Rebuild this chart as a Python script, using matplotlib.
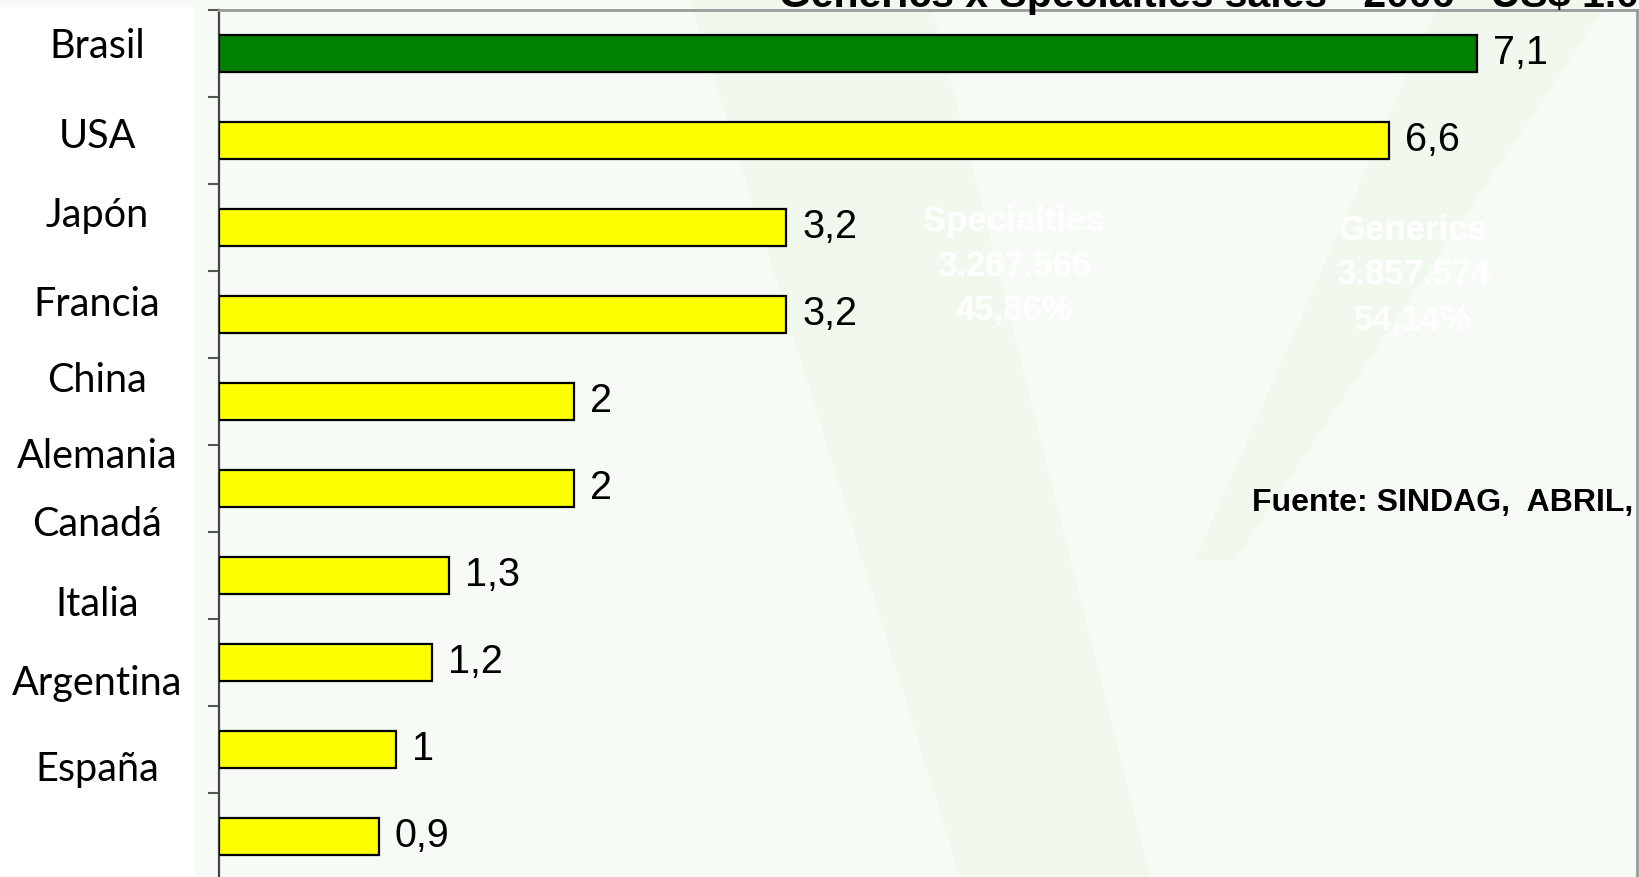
import matplotlib
matplotlib.use("Agg")
import matplotlib.pyplot as plt
from matplotlib import font_manager
from matplotlib.patches import Polygon, Rectangle
import numpy as np

# data
countries = ["Brasil", "USA", "Japón", "Francia", "China", "Alemania",
             "Canadá", "Italia", "Argentina", "España"]
values = [7.1, 6.6, 3.2, 3.2, 2, 2, 1.3, 1.2, 1, 0.9]
value_labels = ["7,1", "6,6", "3,2", "3,2", "2", "2", "1,3", "1,2", "1", "0,9"]
bar_colors = ["#008000"] + ["#ffff00"] * 9

title = "Generics x Specialties sales - 2006 - US$ 1.000"
source = "Fuente: SINDAG,  ABRIL,"
specialties = ["Specialties", "3.267.566", "45,86%"]
generics = ["Generics", "3.857.574", "54,14%"]

# layout (pixels from top of the 1639x877 image)
W, H = 1639, 877
label_y_px = [47, 136, 216, 304, 380, 456, 525, 604, 683, 769]

installed = {f.name for f in font_manager.fontManager.ttflist}
if "Liberation Sans Narrow" in installed:
    narrow, val_size = "Liberation Sans Narrow", 31
else:
    narrow, val_size = "Liberation Sans", 28.5

fig = plt.figure(figsize=(W / 100, H / 100), dpi=100)
fig.patch.set_facecolor("#f7fbf5")

def px(x, y):
    return (x, H - y)

# faint "V" shapes of the slide background
v_color = "#f1f8ee"
fig.patches.append(Polygon([px(690, 0), px(930, 0), px(1150, 877), px(960, 877)],
                           closed=True, transform=None, facecolor=v_color,
                           edgecolor="none", zorder=-2))
fig.patches.append(Polygon([px(1440, 0), px(1610, 0), px(1235, 560), px(1195, 560)],
                           closed=True, transform=None, facecolor=v_color,
                           edgecolor="none", zorder=-2))
# white box behind the country names
fig.patches.append(Rectangle(px(0, 877), 195, 870, transform=None,
                             facecolor="white", edgecolor="none", zorder=-1))

ax = fig.add_axes([219 / W, -3 / H, 1418 / W, 870 / H])
ax.set_facecolor("none")
ax.set_zorder(2)

y = np.arange(len(values))
ax.barh(y, values, height=0.42, color=bar_colors, edgecolor="black",
        linewidth=1.6, zorder=3)
for yi, v, lab in zip(y, values, value_labels):
    ax.annotate(lab, (v, yi), xytext=(16, 0), textcoords="offset pixels",
                va="center", ha="left", fontsize=val_size, family=narrow,
                zorder=4)

ax.set_xlim(0, 8)
ax.set_ylim(len(values) - 0.5, -0.5)
ax.set_xticks([])
ax.set_yticks(np.arange(-0.5, len(values) - 0.5, 1))
ax.set_yticklabels([])
ax.tick_params(axis="y", direction="out", length=8, width=1.5, color="#555555")

ax.spines["left"].set_color("#444444")
ax.spines["left"].set_linewidth(1.6)
ax.spines["top"].set_color("#9a9a9a")
ax.spines["top"].set_linewidth(2)
ax.spines["right"].set_color("#9a9a9a")
ax.spines["right"].set_linewidth(2)
ax.spines["bottom"].set_visible(False)

# country names (separate text column, not aligned to the bars)
for name, ypx in zip(countries, label_y_px):
    fig.text(97 / W, 1 - ypx / H, name, ha="center", va="center",
             fontsize=28.5, family="Lato")

# white watermark figures of the pie chart behind
for i, s in enumerate(specialties):
    fig.text(1014 / W, 1 - (222 + 44 * i) / H, s, ha="center", va="center",
             fontsize=25, weight="bold", color="white", family=narrow)
for i, s in enumerate(generics):
    fig.text(1413 / W, 1 - (230 + 45 * i) / H, s, ha="center", va="center",
             fontsize=25, weight="bold", color="white", family=narrow)

fig.text(1252 / W, 1 - 503 / H, source, ha="left", va="center",
         fontsize=23, weight="bold", family="Liberation Sans")

fig.text(779 / W, 1 - 7 / H, title, ha="left", va="baseline",
         fontsize=29.5, weight="bold", family="Liberation Sans", zorder=5)

fig.savefig("out.png", dpi=100, facecolor=fig.get_facecolor())
